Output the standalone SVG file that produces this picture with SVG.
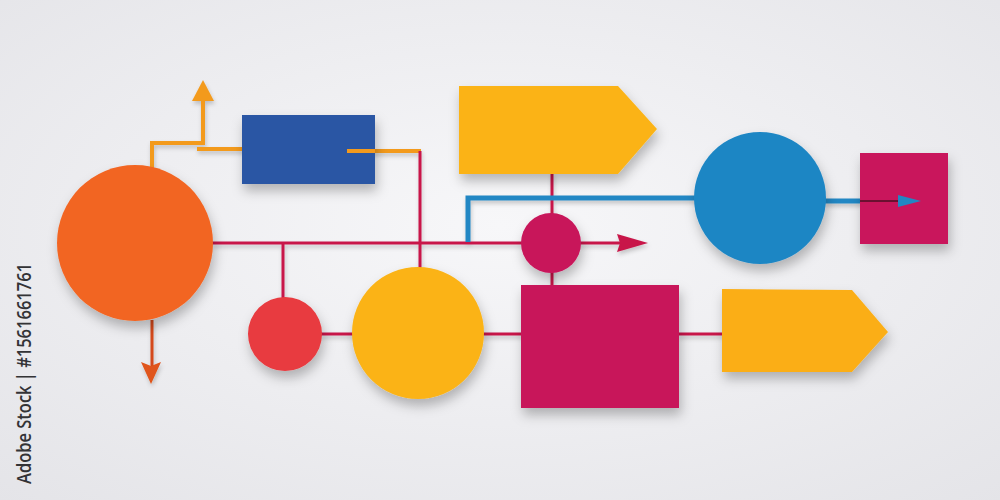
<svg xmlns="http://www.w3.org/2000/svg" width="1000" height="500" viewBox="0 0 1000 500">
  <defs>
    <radialGradient id="bg" cx="50%" cy="45%" r="75%">
      <stop offset="0" stop-color="#f7f7f9"/>
      <stop offset="1" stop-color="#e4e4e8"/>
    </radialGradient>
    <filter id="sh" x="-30%" y="-30%" width="160%" height="170%">
      <feDropShadow dx="2" dy="7" stdDeviation="6" flood-color="#000" flood-opacity="0.26"/>
    </filter>
    <filter id="shl" x="-30%" y="-30%" width="160%" height="160%">
      <feDropShadow dx="1" dy="3" stdDeviation="2" flood-color="#000" flood-opacity="0.2"/>
    </filter>
  </defs>
  <style>
    .red { stroke: #c8194a; stroke-width: 3; fill: none; }
    .org { stroke: #f39a1e; stroke-width: 4; fill: none; }
    .blu { stroke: #2287c4; stroke-width: 5; fill: none; }
    .node { filter: url(#sh); }
    .wm { font-family: "Open Sans", "DejaVu Sans", sans-serif; font-size: 19.5px; font-weight: 600; fill: #333336; }
  </style>
  <rect width="1000" height="500" fill="url(#bg)"/>

  <g id="connectors" filter="url(#shl)">
    <!-- orange -->
    <path class="org" d="M152,168 V143 H203 V98"/>
    <polygon points="203,80 192,101 214,101" fill="#f39a1e"/>
    <path class="org" d="M197,149 H244"/>
    <path class="org" d="M347,151 H421"/>
    <!-- red -->
    <path class="red" d="M420,151 V268"/>
    <path class="red" d="M212,243 H620"/>
    <polygon points="648,243 617,234 620,243 617,252" fill="#c8194a"/>
    <path class="red" d="M283,243 V298"/>
    <path class="red" d="M320,334 H354 M482,334 H523 M678,334 H724"/>
    <path class="red" d="M552,172 V287"/>
    <path class="red" d="M152,320 V366" style="stroke:#d4491a"/>
    <polygon points="151,384 141,362 151,366 161,362" fill="#e0541a"/>
    <!-- blue -->
    <path class="blu" d="M468,242 V198 H697"/>
    <path class="blu" d="M824,201 H862"/>
    <path d="M860,201 H900" stroke="#6b1030" stroke-width="2"/>
    <polygon points="921,201 898,195 898,207" fill="#2287c4"/>
  </g>

  <g id="orange-circle" class="node"><circle cx="135" cy="243" r="78" fill="#f26522"/></g>
  <g id="blue-rect" class="node"><rect x="242" y="115" width="133" height="69" fill="#2a56a4"/></g>
  <path d="M347,151 H375" class="org"/>
  <g id="yellow-arrow-top" class="node"><polygon points="459,86 618,86 657,129 618,174 459,174" fill="#fbb315"/></g>
  <g id="magenta-small-circle" class="node"><circle cx="551" cy="243" r="30" fill="#c8155a"/></g>
  <g id="blue-circle" class="node"><circle cx="760" cy="198" r="66" fill="#1f86c4"/></g>
  <g id="magenta-square-right" class="node"><rect x="860" y="153" width="88" height="91" fill="#c9155b"/></g>
  <path d="M860,201 H900" stroke="#6b1030" stroke-width="2"/>
  <polygon points="921,201 898,195 898,207" fill="#2287c4"/>
  <g id="red-circle" class="node"><circle cx="285" cy="334" r="37" fill="#e83a3f"/></g>
  <g id="yellow-circle" class="node"><circle cx="418" cy="333" r="66" fill="#fbb315"/></g>
  <g id="magenta-square" class="node"><rect x="521" y="285" width="158" height="123" fill="#c8135a"/></g>
  <g id="yellow-arrow-bottom" class="node"><polygon points="722,289 852,290 888,332 852,372 722,372" fill="#fbae17"/></g>

  <text class="wm" transform="translate(31,484) rotate(-90)" textLength="221" lengthAdjust="spacingAndGlyphs">Adobe Stock | #1561661761</text>
</svg>
